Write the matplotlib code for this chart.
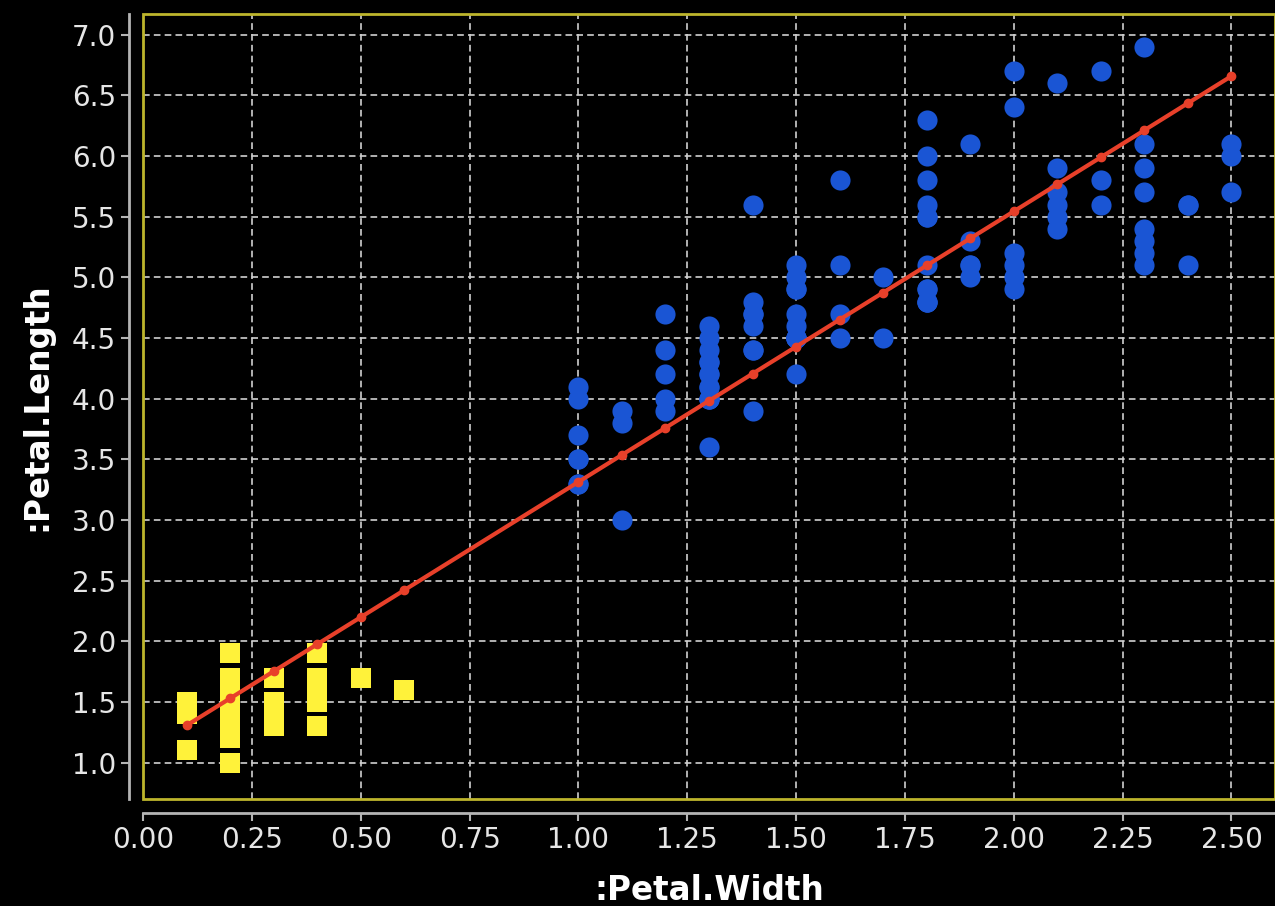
import numpy as np
import matplotlib.pyplot as plt
from matplotlib.patches import Rectangle

# iris petal measurements
setosa_width = [0.2, 0.2, 0.2, 0.2, 0.2, 0.4, 0.3, 0.2, 0.2, 0.1,
                0.2, 0.2, 0.1, 0.1, 0.2, 0.4, 0.4, 0.3, 0.3, 0.3,
                0.2, 0.4, 0.2, 0.5, 0.2, 0.2, 0.4, 0.2, 0.2, 0.2,
                0.2, 0.4, 0.1, 0.2, 0.2, 0.2, 0.2, 0.1, 0.2, 0.2,
                0.3, 0.3, 0.2, 0.6, 0.4, 0.3, 0.2, 0.2, 0.2, 0.2]
setosa_length = [1.4, 1.4, 1.3, 1.5, 1.4, 1.7, 1.4, 1.5, 1.4, 1.5,
                 1.5, 1.6, 1.4, 1.1, 1.2, 1.5, 1.3, 1.4, 1.7, 1.5,
                 1.7, 1.5, 1.0, 1.7, 1.9, 1.6, 1.6, 1.5, 1.4, 1.6,
                 1.6, 1.5, 1.5, 1.4, 1.5, 1.2, 1.3, 1.4, 1.3, 1.5,
                 1.3, 1.3, 1.3, 1.6, 1.9, 1.4, 1.6, 1.4, 1.5, 1.4]

other_width = [1.4, 1.5, 1.5, 1.3, 1.5, 1.3, 1.6, 1.0, 1.3, 1.4,
               1.0, 1.5, 1.0, 1.4, 1.3, 1.4, 1.5, 1.0, 1.5, 1.1,
               1.8, 1.3, 1.5, 1.2, 1.3, 1.4, 1.4, 1.7, 1.5, 1.0,
               1.1, 1.0, 1.2, 1.6, 1.5, 1.6, 1.5, 1.3, 1.3, 1.3,
               1.2, 1.4, 1.2, 1.0, 1.3, 1.2, 1.3, 1.3, 1.1, 1.3,
               2.5, 1.9, 2.1, 1.8, 2.2, 2.1, 1.7, 1.8, 1.8, 2.5,
               2.0, 1.9, 2.1, 2.0, 2.4, 2.3, 1.8, 2.2, 2.3, 1.5,
               2.3, 2.0, 2.0, 1.8, 2.1, 1.8, 1.8, 1.8, 2.1, 1.6,
               1.9, 2.0, 2.2, 1.5, 1.4, 2.3, 2.4, 1.8, 1.8, 2.1,
               2.4, 2.3, 1.9, 2.3, 2.5, 2.3, 1.9, 2.0, 2.3, 1.8]
other_length = [4.7, 4.5, 4.9, 4.0, 4.6, 4.5, 4.7, 3.3, 4.6, 3.9,
                3.5, 4.2, 4.0, 4.7, 3.6, 4.4, 4.5, 4.1, 4.5, 3.9,
                4.8, 4.0, 4.9, 4.7, 4.3, 4.4, 4.8, 5.0, 4.5, 3.5,
                3.8, 3.7, 3.9, 5.1, 4.5, 4.5, 4.7, 4.4, 4.1, 4.0,
                4.4, 4.6, 4.0, 3.3, 4.2, 4.2, 4.2, 4.3, 3.0, 4.1,
                6.0, 5.1, 5.9, 5.6, 5.8, 6.6, 4.5, 6.3, 5.8, 6.1,
                5.1, 5.3, 5.5, 5.0, 5.1, 5.3, 5.5, 6.7, 6.9, 5.0,
                5.7, 4.9, 6.7, 4.9, 5.7, 6.0, 4.8, 4.9, 5.6, 5.8,
                6.1, 6.4, 5.6, 5.1, 5.6, 6.1, 5.6, 5.5, 4.8, 5.4,
                5.6, 5.1, 5.1, 5.9, 5.7, 5.2, 5.0, 5.2, 5.4, 5.1]

x_ticks = [0.0, 0.25, 0.5, 0.75, 1.0, 1.25, 1.5, 1.75, 2.0, 2.25, 2.5]
y_ticks = [1.0, 1.5, 2.0, 2.5, 3.0, 3.5, 4.0, 4.5, 5.0, 5.5, 6.0, 6.5, 7.0]

# least squares line over all flowers
all_w = np.array(setosa_width + other_width)
all_l = np.array(setosa_length + other_length)
slope, icpt = np.polyfit(all_w, all_l, 1)
fit_x = np.unique(all_w)
fit_y = icpt + slope * fit_x

fig = plt.figure(figsize=(12.75, 9.06), dpi=100, facecolor="black")
ax = fig.add_axes([0.1122, 0.1181, 0.8878, 0.8664])
ax.set_facecolor("black")

ax.grid(True, color="#d0d0d0", linestyle=(0, (4, 2.5)), linewidth=1.2)
ax.set_axisbelow(True)

ax.scatter(setosa_width, setosa_length, marker="s", s=190,
           color="#fff23a", linewidths=0, zorder=3)
ax.scatter(other_width, other_length, marker="o", s=210,
           color="#1a55d4", linewidths=0, zorder=3)
ax.plot(fit_x, fit_y, color="#e8402a", linewidth=3, marker="o",
        markersize=6, zorder=4)

ax.set_xlim(0, 2.6)
ax.set_ylim(0.7, 7.17)
ax.set_xticks(x_ticks)
ax.set_yticks(y_ticks)
ax.set_xticklabels([f"{v:.2f}" for v in x_ticks])
ax.set_yticklabels([f"{v:.1f}" for v in y_ticks])

# yellow plot frame, separate grey axis lines
ax.add_patch(Rectangle((0, 0), 1, 1, transform=ax.transAxes, fill=False,
                       edgecolor="#bdb52c", linewidth=2, zorder=5,
                       clip_on=False))
for side in ["top", "right"]:
    ax.spines[side].set_visible(False)
for side in ["left", "bottom"]:
    ax.spines[side].set_position(("outward", 10))
    ax.spines[side].set_color("#b4b4b4")
    ax.spines[side].set_linewidth(2)

ax.tick_params(colors="#b4b4b4", labelcolor="#e6e6e6", labelsize=20,
               length=6, width=1.5, direction="out")

ax.set_xlabel(":Petal.Width", color="white", fontsize=23.5,
              fontweight="bold", labelpad=14)
ax.set_ylabel(":Petal.Length", color="white", fontsize=23.5,
              fontweight="bold", labelpad=13)

fig.savefig("out.png", dpi=100, facecolor="black")
